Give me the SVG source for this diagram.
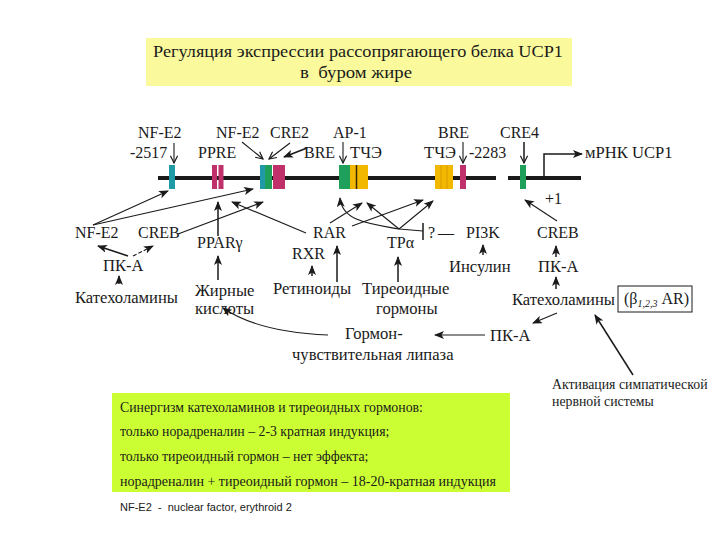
<svg xmlns="http://www.w3.org/2000/svg" width="720" height="540" viewBox="0 0 720 540" font-family="'Liberation Serif', 'Times New Roman', 'DejaVu Serif', serif">
<style>
text{font-family:'Liberation Serif','Times New Roman','DejaVu Serif',serif}
.t{font-size:16px;fill:#1a1a1a}
.r{font-size:16.6px;fill:#1a1a1a}
.s{font-size:13.8px;fill:#1a1a1a}
.c{stroke:#1a1a1a;stroke-width:1.5;fill:none}
.thin{stroke:#1a1a1a;stroke-width:1.1;fill:none}
.dna{stroke:#1a1a1a;stroke-width:4}
.teal{fill:#1f9aa6}.green{fill:#1fa05a}.mag{fill:#c0306b}.yel{fill:#f2b800}
.sans{font-family:'Liberation Sans',Arial,sans-serif}
</style>
<defs>
<marker id="a" viewBox="0 0 10 8" refX="9" refY="4" markerWidth="10" markerHeight="8" markerUnits="userSpaceOnUse" orient="auto"><path d="M0,0 L10,4 L0,8 L2.5,4 z" fill="#1a1a1a"/></marker>
<marker id="o" viewBox="0 0 10 10" refX="9" refY="5" markerWidth="9" markerHeight="9" markerUnits="userSpaceOnUse" orient="auto"><path d="M1,1 L9,5 L1,9" fill="none" stroke="#1a1a1a" stroke-width="1.3"/></marker>
</defs>
<rect width="720" height="540" fill="#fff"/>

<g id="title">
<rect x="146" y="38" width="426" height="48" fill="#fafa9c"/>
<text class="t" x="358" y="57" text-anchor="middle" font-size="17" textLength="410" lengthAdjust="spacingAndGlyphs">Регуляция экспрессии рассопрягающего белка UCP1</text>
<text class="t" x="356" y="78" text-anchor="middle" font-size="17.5" textLength="112" lengthAdjust="spacingAndGlyphs" xml:space="preserve">в  буром жире</text>
</g>

<g id="dna">
<line class="dna" x1="158" y1="178" x2="496" y2="178"/>
<line class="dna" x1="508" y1="178" x2="581" y2="178"/>
<rect class="teal" x="169" y="165" width="6" height="24"/>
<rect class="mag" x="212" y="165" width="5" height="24"/>
<rect class="mag" x="218.5" y="165" width="5" height="24"/>
<rect class="teal" x="260" y="165" width="5" height="24"/>
<rect class="green" x="265" y="165" width="7" height="24"/>
<rect class="mag" x="273" y="165" width="12" height="24"/>
<rect class="green" x="339" y="165" width="11" height="24"/>
<rect class="yel" x="350" y="165" width="18" height="24"/>
<line x1="356.5" y1="165" x2="356.5" y2="189" stroke="#3a2a00" stroke-width="1.5"/>
<rect class="yel" x="435" y="165" width="18" height="24"/>
<line x1="441" y1="165" x2="441" y2="189" stroke="#d89a00" stroke-width="1"/>
<line x1="447" y1="165" x2="447" y2="189" stroke="#d89a00" stroke-width="1"/>
<rect class="mag" x="460" y="165" width="6" height="24"/>
<rect class="green" x="520" y="165" width="6" height="24"/>
</g>

<g id="site-labels">
<text class="t" x="138" y="138">NF-E2</text>
<text class="t" x="130" y="158">-2517</text>
<text class="t" x="216" y="138">NF-E2</text>
<text class="t" x="198" y="158">PPRE</text>
<text class="t" x="270" y="138">CRE2</text>
<text class="t" x="304" y="158">BRE</text>
<text class="t" x="333" y="138">AP-1</text>
<text class="r" x="350" y="158">ТЧЭ</text>
<text class="t" x="438" y="138">BRE</text>
<text class="r" x="424" y="158">ТЧЭ</text>
<text class="t" x="469" y="158">-2283</text>
<text class="t" x="500" y="138">CRE4</text>
<text class="r" x="585" y="158">мРНК UCP1</text>
<text class="t" x="545" y="204">+1</text>
</g>

<g id="factors">
<text class="t" x="75" y="238">NF-E2</text>
<text class="t" x="138" y="238">CREB</text>
<text class="t" x="197" y="248" font-size="14.5">PPARγ</text>
<text class="t" x="313" y="238">RAR</text>
<text class="t" x="292" y="259">RXR</text>
<text class="t" x="387" y="248">ТРα</text>
<text class="t" x="428" y="238">?</text>
<text class="t" x="438" y="238">—</text>
<text class="t" x="466" y="238">PI3K</text>
<text class="t" x="537" y="238">CREB</text>
</g>

<g id="signals">
<text class="r" x="103" y="271">ПК-А</text>
<text class="r" x="449" y="272" font-size="15.4">Инсулин</text>
<text class="r" x="538" y="272">ПК-А</text>
<text class="r" x="75" y="303">Катехоламины</text>
<text class="r" x="195" y="296">Жирные</text>
<text class="r" x="195" y="314">кислоты</text>
<text class="r" x="273" y="294">Ретиноиды</text>
<text class="r" x="362" y="294">Тиреоидные</text>
<text class="r" x="376" y="314">гормоны</text>
<text class="r" x="512" y="305">Катехоламины</text>
<text class="r" x="345" y="339">Гормон-</text>
<text class="r" x="292" y="360">чувствительная липаза</text>
<text class="r" x="490" y="341">ПК-А</text>
</g>

<g id="receptor">
<rect x="618" y="286" width="74" height="26" fill="none" stroke="#1a1a1a" stroke-width="1"/>
<text class="t" x="624" y="304" font-size="15">(β<tspan font-size="10" dy="3" font-style="italic">1,2,3</tspan><tspan dy="-3"> AR)</tspan></text>
</g>

<g id="activation">
<text class="s" x="552" y="389" font-size="14">Активация симпатической</text>
<text class="s" x="552" y="406" font-size="14">нервной системы</text>
</g>

<g id="synergy">
<rect x="112" y="393" width="398" height="99" fill="#ccff33"/>
<text class="s" x="120" y="412">Синергизм катехоламинов и тиреоидных гормонов:</text>
<text class="s" x="120" y="436">только норадреналин – 2-3 кратная индукция;</text>
<text class="s" x="120" y="461">только тиреоидный гормон – нет эффекта;</text>
<text class="s" x="120" y="486" textLength="376" lengthAdjust="spacingAndGlyphs">норадреналин + тиреоидный гормон – 18-20-кратная индукция</text>
</g>

<g id="footnote">
<text class="sans" x="120" y="511" font-size="11" fill="#1a1a1a" xml:space="preserve">NF-E2  -  nuclear factor, erythroid 2</text>
</g>

<g id="connectors">
<line class="thin" x1="174" y1="143" x2="174" y2="163" marker-end="url(#o)"/>
<line class="thin" x1="242" y1="142" x2="263" y2="159" marker-end="url(#o)"/>
<line class="thin" x1="290" y1="143" x2="269" y2="159" marker-end="url(#o)"/>
<line class="c" x1="307" y1="148" x2="284" y2="157" stroke-width="2" marker-end="url(#a)"/>
<line class="thin" x1="343" y1="142" x2="343" y2="163" marker-end="url(#o)"/>
<line class="thin" x1="463" y1="142" x2="463" y2="163" marker-end="url(#o)"/>
<line class="c" x1="524" y1="142" x2="524" y2="163" marker-end="url(#o)"/>
<path class="c" d="M544 178 V154 H582" marker-end="url(#a)"/>
<line class="thin" x1="93" y1="225" x2="168" y2="191" marker-end="url(#a)"/>
<line class="thin" x1="93" y1="225" x2="253" y2="189" marker-end="url(#a)"/>
<line class="thin" x1="178" y1="234" x2="263" y2="202" marker-end="url(#a)"/>
<line class="c" x1="218" y1="236" x2="218" y2="202" marker-end="url(#a)"/>
<line class="thin" x1="306" y1="233" x2="232" y2="202" marker-end="url(#a)"/>
<line class="thin" x1="330" y1="223" x2="362" y2="203" marker-end="url(#a)"/>
<line class="thin" x1="352" y1="226" x2="423" y2="200" marker-end="url(#a)"/>
<path class="thin" d="M399 229 C372 224 342 222 340 198" marker-end="url(#a)"/>
<line class="thin" x1="399" y1="229" x2="367" y2="203" marker-end="url(#a)"/>
<line class="thin" x1="399" y1="229" x2="433" y2="201" marker-end="url(#a)"/>
<line class="thin" x1="399" y1="229" x2="423" y2="231"/>
<line class="c" x1="423" y1="223" x2="423" y2="240"/>
<line class="thin" x1="557" y1="221" x2="525" y2="200" marker-end="url(#a)"/>
<line class="c" x1="128" y1="256" x2="98" y2="246" marker-end="url(#a)"/>
<line class="thin" x1="133" y1="256" x2="153" y2="246" stroke-dasharray="4 2" marker-end="url(#a)"/>
<line class="c" x1="119" y1="284" x2="119" y2="276" marker-end="url(#a)"/>
<line class="c" x1="218" y1="280" x2="218" y2="256" marker-end="url(#a)"/>
<line class="c" x1="312" y1="276" x2="312" y2="266" marker-end="url(#a)"/>
<line class="c" x1="337" y1="282" x2="337" y2="246" marker-end="url(#a)"/>
<line class="c" x1="398" y1="282" x2="398" y2="257" marker-end="url(#a)"/>
<line class="c" x1="483" y1="255" x2="483" y2="245" marker-end="url(#a)"/>
<line class="c" x1="556" y1="257" x2="556" y2="246" marker-end="url(#a)"/>
<line class="c" x1="556" y1="289" x2="556" y2="277" marker-end="url(#a)"/>
<line class="thin" x1="557" y1="313" x2="533" y2="323" marker-end="url(#a)"/>
<line class="thin" x1="485" y1="335" x2="435" y2="335" marker-end="url(#a)"/>
<path class="thin" d="M328 335 Q258 332 223 308" marker-end="url(#a)"/>
<line class="c" x1="633" y1="375" x2="595" y2="315" marker-end="url(#a)"/>
</g>
</svg>
